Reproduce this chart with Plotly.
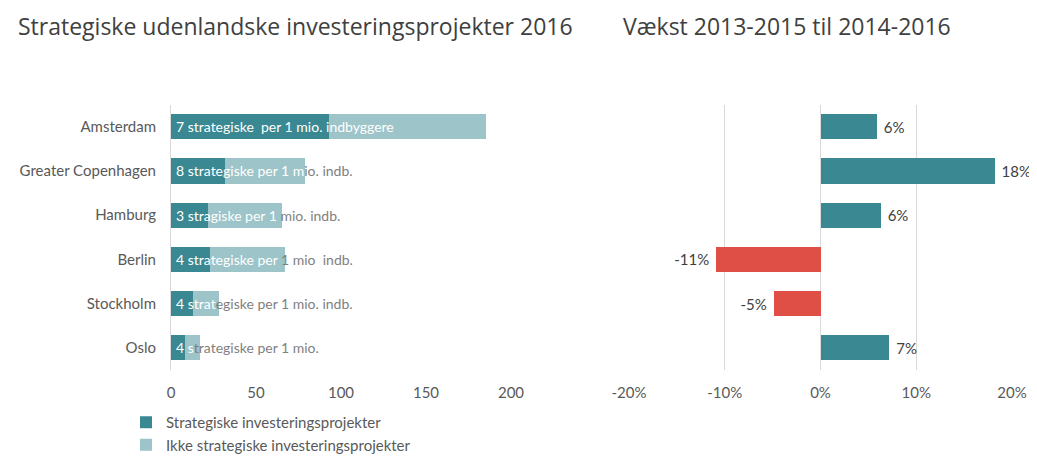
import plotly.graph_objects as go

cities = ["Amsterdam", "Greater Copenhagen", "Hamburg", "Berlin", "Stockholm", "Oslo"]
strategic = [93, 32, 22, 23, 13, 8]
non_strategic = [92, 47, 43, 44, 15, 9]
label_inside = ["7 strategiske  per 1 mio. indbyggere", "8 strategiske per 1 m", "3 stragiske per 1 ",
                "4 strategiske per ", "4 strat", "4 s"]
label_outside = ["", "io. indb.", "mio. indb.", "1 mio  indb.", "egiske per 1 mio. indb.", "trategiske per 1 mio."]
growth = [0.059, 0.182, 0.063, -0.109, -0.049, 0.072]
left_ticks = [0, 50, 100, 150, 200]
right_ticks = [-0.2, -0.1, 0, 0.1, 0.2]
right_ticklabels = ["-20%", "-10%", "0%", "10%", "20%"]

TEAL = "#3a8891"
LIGHT = "#9cc4c9"
RED = "#e04f45"
GRID = "#d9d9d9"
TICK = "#595959"
TITLE = "#404040"
FONT = "Lato, 'Open Sans', sans-serif"

# page offset of the figure inside the browser (default body margin)
OFF = 8
W, H = 1037 - OFF, 456 - OFF


def px(p):
    return (p - OFF) / W


def py(p):
    return 1 - (p - OFF) / H


NBSP = "\u00a0"
growth_text = [(NBSP + f"{v:.0%}") if v >= 0 else (f"{v:.0%}" + NBSP) for v in growth]

fig = go.Figure()
fig.add_trace(go.Bar(
    y=cities, x=strategic, orientation="h", name="Strategiske investeringsprojekter",
    marker=dict(color=TEAL, line=dict(width=0)), width=0.57, xaxis="x", yaxis="y",
    legendgroup="a", hoverinfo="skip"))
fig.add_trace(go.Bar(
    y=cities, x=non_strategic, orientation="h", name="Ikke strategiske investeringsprojekter",
    marker=dict(color=LIGHT, line=dict(width=0)), width=0.57, xaxis="x", yaxis="y",
    legendgroup="b", hoverinfo="skip"))
fig.add_trace(go.Bar(
    y=cities, x=growth, orientation="h", showlegend=False,
    marker=dict(color=[RED if v < 0 else TEAL for v in growth], line=dict(width=0)),
    width=0.57, xaxis="x2", yaxis="y2",
    text=growth_text, textposition="outside", cliponaxis=False,
    textfont=dict(family=FONT, size=15, color=TITLE), hoverinfo="skip"))

annotations = []
for c, a, b in zip(cities, label_inside, label_outside):
    txt = '<span style="color:#ffffff">%s</span>' % a
    if b:
        txt += '<span style="color:#7f7f7f">%s</span>' % b
    annotations.append(dict(x=0, y=c, xref="x", yref="y", text=txt, showarrow=False,
                            xanchor="left", yanchor="middle", xshift=3,
                            font=dict(family=FONT, size=14)))

annotations.append(dict(x=px(16), y=py(8), xref="paper", yref="paper", xanchor="left",
                        yanchor="top", showarrow=False,
                        text="Strategiske udenlandske investeringsprojekter 2016",
                        font=dict(family="'Open Sans', sans-serif", size=23, color=TITLE)))
annotations.append(dict(x=px(621), y=py(8), xref="paper", yref="paper", xanchor="left",
                        yanchor="top", showarrow=False,
                        text="Vækst 2013-2015 til 2014-2016",
                        font=dict(family="'Open Sans', sans-serif", size=23, color=TITLE)))

ydom = [py(370), py(104.6)]
fig.update_layout(
    width=W, height=H, margin=dict(l=0, r=0, t=0, b=0, autoexpand=False),
    paper_bgcolor="white", plot_bgcolor="white", barmode="stack",
    font=dict(family=FONT, size=14, color=TICK),
    xaxis=dict(domain=[px(171), px(511)], range=[0, 200], tickvals=left_ticks,
               showgrid=False, zeroline=False, showline=False, automargin=False,
               tickfont=dict(size=15, color=TICK), ticklabelstandoff=12),
    yaxis=dict(domain=ydom, autorange="reversed", showline=True, linecolor=GRID, linewidth=1,
               showgrid=False, automargin=False,
               tickfont=dict(size=15, color=TICK), ticklabelstandoff=11),
    xaxis2=dict(domain=[px(629), px(1012)], range=[-0.2, 0.2], tickvals=right_ticks,
                ticktext=right_ticklabels, showgrid=True, gridcolor=GRID, gridwidth=1,
                zeroline=True, zerolinecolor=GRID, zerolinewidth=1, showline=False,
                automargin=False,
                tickfont=dict(size=15, color=TICK), ticklabelstandoff=12, anchor="y2"),
    yaxis2=dict(domain=ydom, autorange="reversed", showticklabels=False, showline=False,
                showgrid=False, anchor="x2", automargin=False),
    legend=dict(x=px(126), y=py(406), xanchor="left", yanchor="top",
                font=dict(family=FONT, size=15, color=TICK), tracegroupgap=10,
                bgcolor="rgba(0,0,0,0)", traceorder="normal", itemwidth=30),
    annotations=annotations,
    bargap=0.43,
)

fig.write_html("out.html")
